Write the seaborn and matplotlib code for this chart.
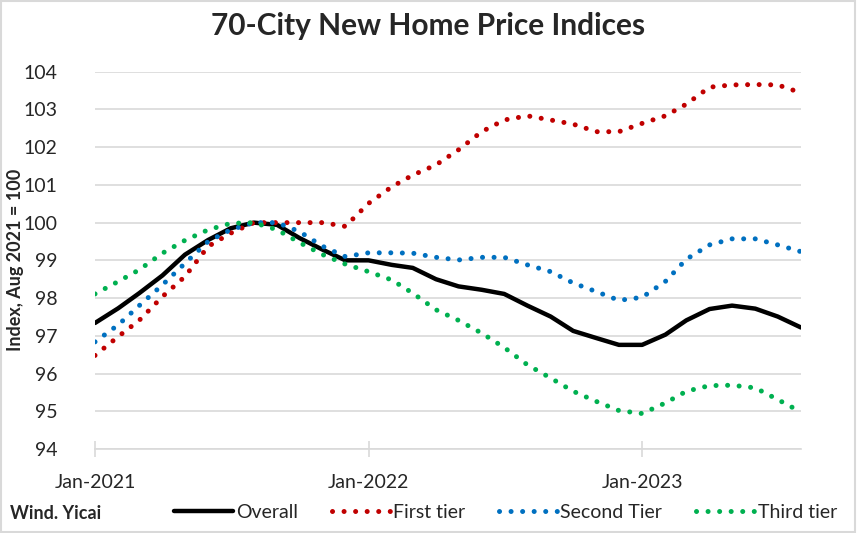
import pandas as pd
import seaborn as sns
import matplotlib.pyplot as plt
import matplotlib.dates as mdates
from matplotlib.patches import Rectangle

sns.set_theme(style="white")
plt.rcParams['font.family'] = ['Lato', 'DejaVu Sans']

# monthly data, Jan-2021 .. Aug-2023
months = pd.date_range("2021-01-01", periods=32, freq="MS")

overall = [97.34, 97.73, 98.13, 98.6, 99.15, 99.54, 99.85, 100.0,
           99.94, 99.59, 99.28, 99.0, 99.0, 98.88, 98.8, 98.5,
           98.31, 98.22, 98.11, 97.8, 97.51, 97.13, 96.94, 96.76,
           96.76, 97.03, 97.41, 97.71, 97.8, 97.72, 97.51, 97.22]
first_tier = [96.48, 96.98, 97.41, 98.04, 98.57, 99.37, 99.72, 100.0,
              100.0, 100.0, 100.0, 99.9, 100.51, 100.95, 101.26, 101.53,
              101.93, 102.41, 102.72, 102.83, 102.72, 102.61, 102.41, 102.41,
              102.63, 102.83, 103.14, 103.59, 103.65, 103.66, 103.65, 103.44]
second_tier = [96.84, 97.29, 97.8, 98.35, 98.92, 99.5, 99.81, 100.0,
               100.0, 99.76, 99.37, 99.1, 99.2, 99.2, 99.19, 99.08,
               99.01, 99.08, 99.08, 98.88, 98.7, 98.4, 98.17, 97.94,
               98.02, 98.44, 99.03, 99.41, 99.57, 99.57, 99.41, 99.23]
third_tier = [98.11, 98.44, 98.75, 99.19, 99.53, 99.81, 99.98, 100.0,
              99.81, 99.47, 99.15, 98.9, 98.7, 98.48, 98.13, 97.69,
              97.41, 97.07, 96.69, 96.23, 95.88, 95.53, 95.26, 95.02,
              94.94, 95.22, 95.53, 95.68, 95.69, 95.62, 95.31, 94.98]

fig = plt.figure(figsize=(8.57, 5.33), dpi=100)
ax = fig.add_axes([95 / 857, 1 - 449 / 533, 706 / 857, 377.3 / 533])

dot = (0, (0.01, 2.3))
sns.lineplot(x=months, y=overall, ax=ax, color="black", lw=3.2,
             label="Overall")
sns.lineplot(x=months, y=first_tier, ax=ax, color="#C00000", lw=3.6,
             ls=dot, dash_capstyle="round", label="First tier")
sns.lineplot(x=months, y=second_tier, ax=ax, color="#0070C0", lw=3.6,
             ls=dot, dash_capstyle="round", label="Second Tier")
sns.lineplot(x=months, y=third_tier, ax=ax, color="#00B050", lw=3.6,
             ls=dot, dash_capstyle="round", label="Third tier")

ax.set_xlim(months[0], months[-1])
ax.set_ylim(94, 104)
ax.set_yticks(range(94, 105))
ax.yaxis.grid(True, color="#D9D9D9", lw=1.2)
ax.set_axisbelow(True)
for s in ["top", "right", "left"]:
    ax.spines[s].set_visible(False)
ax.spines["bottom"].set_color("#D9D9D9")
ax.spines["bottom"].set_linewidth(1.2)

ax.xaxis.set_major_locator(mdates.MonthLocator(bymonth=1))
ax.xaxis.set_major_formatter(mdates.DateFormatter("%b-%Y"))
ax.tick_params(axis="x", direction="inout", length=12, width=1.2,
               color="#D9D9D9", labelsize=14, pad=12, bottom=True)
ax.tick_params(axis="y", length=0, labelsize=14, pad=27)

ax.set_ylabel("Index, Aug 2021 = 100", fontsize=13, fontweight="bold")
ax.yaxis.set_label_coords(-0.1, 0.5)
ax.set_xlabel("")

fig.suptitle("70-City New Home Price Indices", fontsize=21.5,
             fontweight="bold", y=0.978)

ax.get_legend().remove()
handles, labels = ax.get_legend_handles_labels()
fig.legend(handles, labels, loc="center", ncol=4, frameon=False,
           bbox_to_anchor=(0.59, 0.038), fontsize=14, handlelength=3.0,
           handletextpad=0.15, columnspacing=1.75)
fig.text(0.012, 0.036, "Wind. Yicai", fontsize=13, fontweight="bold",
         va="center")

fig.patches.append(Rectangle((0.001, 0.001), 0.997, 0.997,
                             transform=fig.transFigure, fill=False,
                             edgecolor="#D9D9D9", lw=1.5))

fig.savefig("out.png", dpi=100)
